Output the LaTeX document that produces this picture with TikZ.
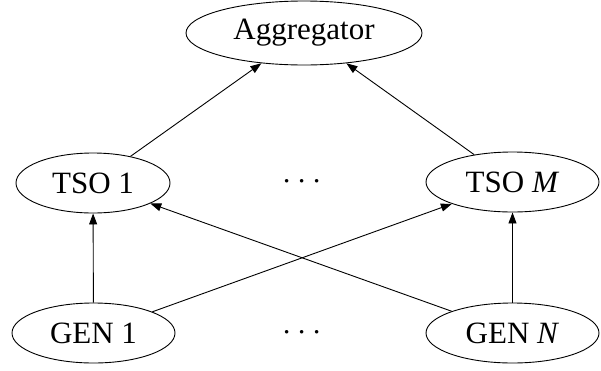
\documentclass[tikz,border=0pt]{standalone}
\usepackage{fontspec}
\usepackage{graphicx}
\setmainfont{Liberation Serif}
\usetikzlibrary{shapes.geometric,arrows.meta}
\tikzset{
  ell/.style={draw, ellipse, line width=0.9pt, inner sep=0pt, font=\fontsize{31}{36}\selectfont},
  conn/.style={line width=0.9pt, -{Stealth[length=11pt,width=8pt,inset=0pt]}},
  dots/.style={inner sep=0pt, font=\fontsize{24.88}{30}\selectfont}
}
\newcommand{\mydots}{\scalebox{1.33}{$\cdots$}}
\begin{document}
\begin{tikzpicture}[x=1pt,y=-1pt]
\useasboundingbox (0,0) rectangle (601,370);
\node[ell, minimum width=236pt, minimum height=64pt] (agg) at (304,33) {Aggregator};
\node[ell, minimum width=154pt, minimum height=60pt] (tso1) at (93,183) {TSO 1};
\node[ell, minimum width=173pt, minimum height=60pt] (tsom) at (512.5,182) {TSO \textit{M}};
\node[ell, minimum width=163pt, minimum height=60pt] (gen1) at (93.5,333) {GEN 1};
\node[ell, minimum width=173pt, minimum height=60pt] (genn) at (512.5,333) {GEN \textit{N}};
\node[dots] (d1) at (302,182) {\mydots};
\node[dots] (d2) at (302,333) {\mydots};
\draw[conn] (tso1) -- (agg);
\draw[conn] (tsom) -- (agg);
\draw[conn] (gen1) -- (tso1);
\draw[conn] (genn) -- (tsom);
\draw[conn] (gen1) -- (tsom);
\draw[conn] (genn) -- (tso1);
\end{tikzpicture}
\end{document}
